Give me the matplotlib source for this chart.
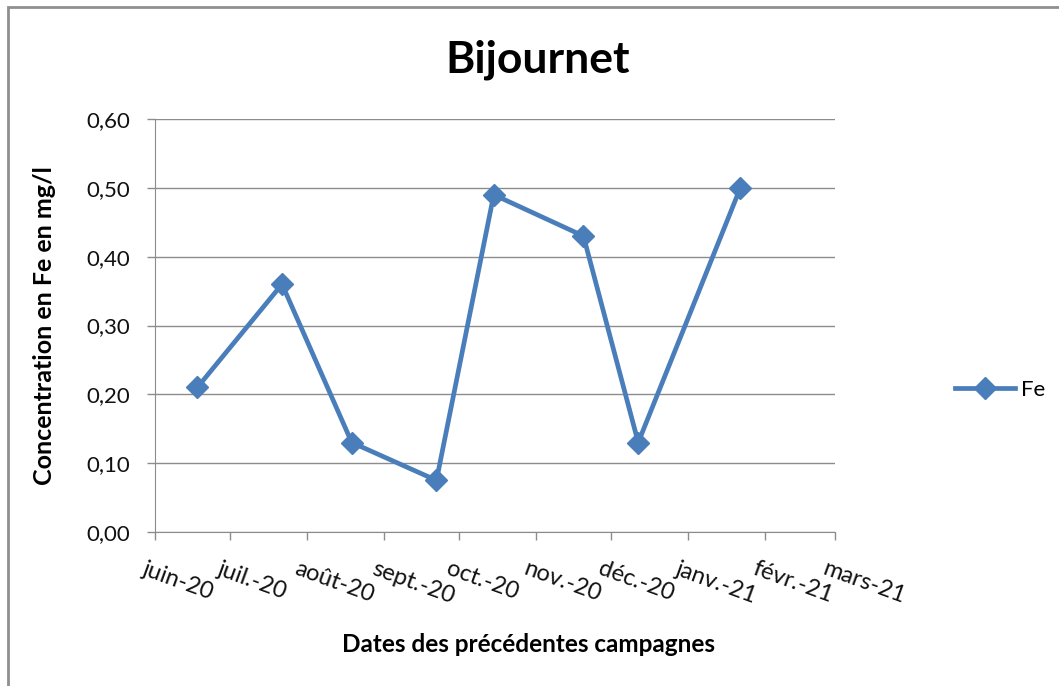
import datetime as dt
import matplotlib
matplotlib.use("Agg")
import matplotlib.pyplot as plt
import matplotlib.dates as mdates
import matplotlib.transforms as mtransforms
from matplotlib.patches import Rectangle

# données
DATES = ["2020-06-18", "2020-07-22", "2020-08-19", "2020-09-22",
         "2020-10-15", "2020-11-20", "2020-12-12", "2021-01-22"]
FE = [0.21, 0.36, 0.13, 0.075, 0.49, 0.43, 0.13, 0.50]
TICK_DATES = ["2020-06-01", "2020-07-01", "2020-08-01", "2020-09-01", "2020-10-01",
              "2020-11-01", "2020-12-01", "2021-01-01", "2021-02-01", "2021-03-01"]
TICK_LABELS = ["juin-20", "juil.-20", "août-20", "sept.-20", "oct.-20",
               "nov.-20", "déc.-20", "janv.-21", "févr.-21", "mars-21"]
Y_TICKS = [0.0, 0.1, 0.2, 0.3, 0.4, 0.5, 0.6]

BLUE = "#4A7EBB"
GRID = "#8C8C8C"
FONT = ["Lato", "DejaVu Sans"]


def to_dates(strs):
    return [dt.datetime.strptime(s, "%Y-%m-%d") for s in strs]


def main():
    plt.rcParams["font.family"] = FONT
    fig = plt.figure(figsize=(10.59, 6.86), dpi=100)
    fig.patches.append(Rectangle((8 / 1059, -0.1), 1.2, 1 - 7 / 686 + 0.1,
                                 transform=fig.transFigure, fill=False,
                                 edgecolor="#8F8F8F", linewidth=2))

    ax = fig.add_axes([155 / 1059, 1 - 532 / 686, 680 / 1059, 413 / 686])
    xt = to_dates(TICK_DATES)
    ax.plot(to_dates(DATES), FE, color=BLUE, linewidth=3.4, marker="D",
            markersize=11, label="Fe", zorder=3)

    ax.set_xlim(xt[0], xt[-1])
    ax.set_ylim(0, 0.6)
    ax.set_yticks(Y_TICKS)
    ax.set_yticklabels([f"{v:.2f}".replace(".", ",") for v in Y_TICKS])
    ax.yaxis.grid(True, color=GRID, linewidth=1)
    ax.set_axisbelow(True)

    ax.set_xticks(mdates.date2num(xt))
    ax.set_xticklabels(TICK_LABELS, rotation=-20, ha="left", va="top",
                       rotation_mode="anchor")

    for side in ["top", "right"]:
        ax.spines[side].set_visible(False)
    for side in ["left", "bottom"]:
        ax.spines[side].set_color(GRID)
    ax.tick_params(axis="both", colors=GRID, labelcolor="#111111", labelsize=16,
                   length=6, width=1, direction="out")
    ax.tick_params(axis="y", pad=12)
    ax.tick_params(axis="x", pad=0, labelsize=17)
    offset = mtransforms.ScaledTranslation(-0.08, -0.18, fig.dpi_scale_trans)
    for lab in ax.get_xticklabels():
        lab.set_transform(lab.get_transform() + offset)

    ax.set_ylabel("Concentration en Fe en mg/l", fontsize=18, fontweight="bold",
                  va="center")
    ax.yaxis.set_label_coords((45 - 155) / 680, 0.5)
    ax.set_xlabel("Dates des précédentes campagnes", fontsize=17.5,
                  fontweight="bold", va="center")
    ax.xaxis.set_label_coords((528 - 155) / 680, (532 - 645) / 413)
    fig.text(538 / 1059, 1 - 60 / 686, "Bijournet", fontsize=32,
             fontweight="bold", ha="center", va="center")

    ax.legend(loc="center left", bbox_to_anchor=(955 / 1059, 1 - 390 / 686),
              bbox_transform=fig.transFigure, frameon=False, fontsize=16,
              handlelength=2.7, handletextpad=0.25, borderaxespad=0,
              borderpad=0)

    fig.savefig("out.png", dpi=100)


if __name__ == "__main__":
    main()
